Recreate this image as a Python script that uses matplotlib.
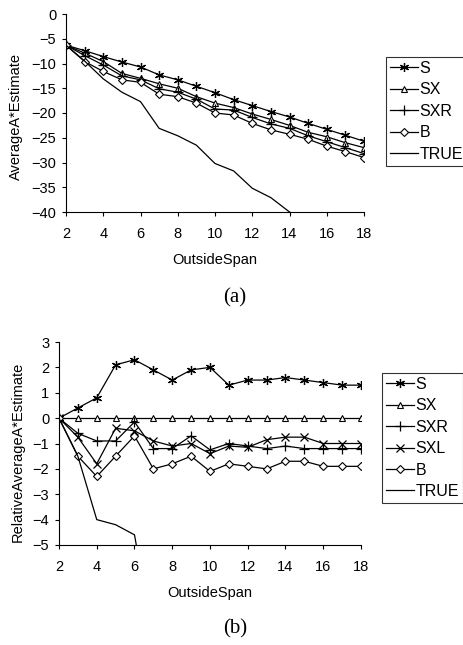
import matplotlib
matplotlib.use('Agg')
import matplotlib.pyplot as plt

plt.rcParams['font.family'] = ['Liberation Sans', 'DejaVu Sans']

# ---- panel (a): average A* estimate ----
span = list(range(2, 19))
a_S   = [-6.3, -7.4, -8.6, -9.7, -10.7, -12.3, -13.3, -14.6, -15.9, -17.3, -18.5,
         -19.7, -20.8, -22.1, -23.3, -24.5, -25.7]
a_SX  = [-6.3, -7.9, -9.6, -12.0, -13.0, -14.1, -15.0, -16.7, -18.0, -18.9, -20.2,
         -21.3, -22.5, -23.9, -24.8, -26.0, -27.0]
a_SXR = [-6.3, -8.4, -10.3, -12.5, -13.3, -15.1, -15.8, -17.2, -19.2, -19.4, -20.9,
         -22.2, -23.1, -24.6, -25.8, -27.0, -28.2]
a_B   = [-6.3, -9.6, -11.6, -13.3, -13.8, -16.2, -16.7, -18.0, -20.0, -20.4, -22.1,
         -23.4, -24.3, -25.3, -26.7, -27.8, -29.0]
true_span_a = list(range(2, 16))
a_TRUE = [-6.3, -9.5, -13.1, -15.8, -17.7, -23.1, -24.6, -26.5, -30.2, -31.7, -35.2,
          -37.1, -40.0, -42.0]

# ---- panel (b): relative average A* estimate ----
b_S   = [0, 0.4, 0.8, 2.1, 2.3, 1.9, 1.5, 1.9, 2.0, 1.3, 1.5, 1.5, 1.6, 1.5, 1.4, 1.3, 1.3]
b_SX  = [0] * 17
b_SXR = [0, -0.6, -0.9, -0.9, -0.15, -1.2, -1.2, -0.7, -1.25, -1.0, -1.1, -1.2, -1.1,
         -1.2, -1.2, -1.2, -1.2]
b_SXL = [0, -0.75, -1.8, -0.4, -0.5, -0.9, -1.1, -1.0, -1.4, -1.1, -1.15, -0.85, -0.75,
         -0.75, -1.0, -1.0, -1.0]
b_B   = [0, -1.5, -2.3, -1.5, -0.7, -2.0, -1.8, -1.5, -2.1, -1.8, -1.9, -2.0, -1.7,
         -1.7, -1.9, -1.9, -1.9]
true_span_b = list(range(2, 8))
b_TRUE = [0, -1.5, -4.0, -4.2, -4.6, -8.8]

W, H = 464, 645
fig = plt.figure(figsize=(W / 100, H / 100), dpi=100)

LW = 0.9
star = (6, 2, 0)
styles = {
    'S':    dict(marker=star, ms=6.5, mew=0.9, mfc='black'),
    'SX':   dict(marker='^', ms=5, mew=0.8, mfc='white'),
    'SXR':  dict(marker='+', ms=7, mew=0.9),
    'SXL':  dict(marker='x', ms=6, mew=0.9),
    'B':    dict(marker='D', ms=4.3, mew=0.8, mfc='white'),
}


def style_axes(ax, ylabel):
    for s in ('top', 'right'):
        ax.spines[s].set_visible(False)
    for s in ('left', 'bottom'):
        ax.spines[s].set_linewidth(0.8)
    ax.tick_params(direction='out', length=3, width=0.8, labelsize=10.5)
    ax.tick_params(axis='x', pad=7.5)
    ax.tick_params(axis='y', pad=4)
    ax.set_xlim(2, 18)
    ax.set_xticks(range(2, 19, 2))
    ax.set_xlabel('OutsideSpan', fontsize=10.5, labelpad=9)
    ax.set_ylabel(ylabel, fontsize=10.5)


def add_legend(ax, anchor):
    leg = ax.legend(loc='upper left', bbox_to_anchor=anchor,
                    bbox_transform=fig.transFigure, fontsize=11.5,
                    frameon=True, fancybox=False, handlelength=1.75,
                    handletextpad=0.1, borderpad=0.25, labelspacing=0.4,
                    borderaxespad=0)
    leg.get_frame().set_edgecolor('black')
    leg.get_frame().set_linewidth(0.8)


# panel (a)
ax1 = fig.add_axes([66 / W, 1 - 212 / H, 298 / W, 198 / H])
for name, vals in [('S', a_S), ('SX', a_SX), ('SXR', a_SXR), ('B', a_B)]:
    ax1.plot(span, vals, color='black', lw=LW, label=name, **styles[name])
ax1.plot(true_span_a, a_TRUE, color='black', lw=LW, label='TRUE')
ax1.set_ylim(-40, 0)
ax1.set_yticks(range(-40, 1, 5))
style_axes(ax1, 'AverageA*Estimate')
ax1.yaxis.set_label_coords(-0.143, 0.48)
add_legend(ax1, (386 / W, 1 - 57 / H))

# panel (b)
ax2 = fig.add_axes([59 / W, 1 - 545 / H, 302 / W, 203 / H])
for name, vals in [('S', b_S), ('SX', b_SX), ('SXR', b_SXR), ('SXL', b_SXL), ('B', b_B)]:
    ax2.plot(span, vals, color='black', lw=LW, label=name, **styles[name])
ax2.plot(true_span_b, b_TRUE, color='black', lw=LW, label='TRUE')
ax2.set_ylim(-5, 3)
ax2.set_yticks(range(-5, 4))
style_axes(ax2, 'RelativeAverageA*Estimate')
ax2.yaxis.set_label_coords(-0.113, 0.46)
add_legend(ax2, (382 / W, 1 - 373 / H))

fig.text(235 / W, 1 - 298 / H, '(a)', ha='center', va='center',
         fontsize=15, family='Liberation Serif')
fig.text(235 / W, 1 - 629 / H, '(b)', ha='center', va='center',
         fontsize=15, family='Liberation Serif')

fig.savefig('out.png', dpi=100)
